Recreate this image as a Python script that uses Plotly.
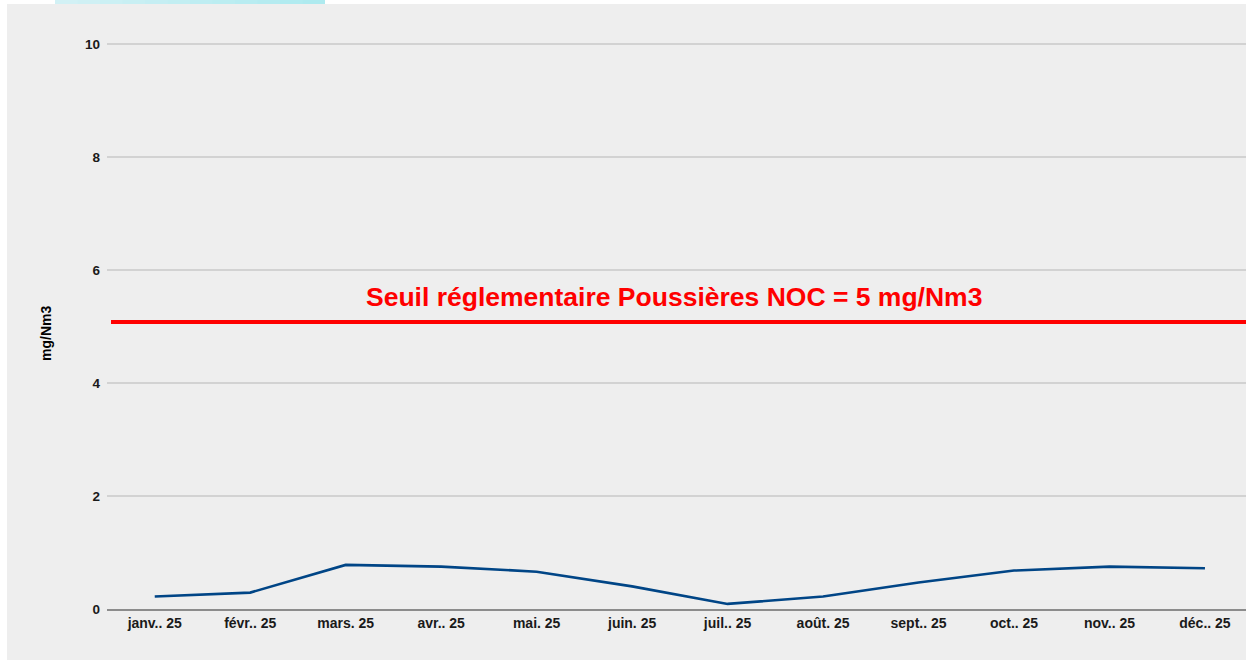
import plotly.graph_objects as go

# ---- data ----
mois = ["janv.. 25", "févr.. 25", "mars. 25", "avr.. 25", "mai. 25", "juin. 25",
        "juil.. 25", "août. 25", "sept.. 25", "oct.. 25", "nov.. 25", "déc.. 25"]
poussieres = [0.22, 0.29, 0.78, 0.75, 0.66, 0.40, 0.09, 0.22, 0.47, 0.68, 0.75, 0.72]
seuil = 5.08
seuil_label = "Seuil réglementaire Poussières NOC = 5 mg/Nm3"
y_ticks = [0, 2, 4, 6, 8, 10]
y_title = "mg/Nm3"

# ---- layout geometry (pixels) ----
W, H = 1246, 660
ML, MR, MT, MB = 107, 0, 41, 51
Y_TOP = 10.05
PW = W - ML - MR
PH = H - MT - MB


def px2x(px):
    return (px - ML) / PW


def py2y(py):
    return (H - MB - py) / PH


FONT = "Liberation Sans, Arial, sans-serif"

fig = go.Figure()
fig.add_trace(go.Scatter(
    x=mois, y=poussieres, mode="lines",
    line=dict(color="#004586", width=2.6),
    hoverinfo="x+y", showlegend=False,
))

shapes = []
# threshold line
shapes.append(dict(type="line", xref="paper", yref="y",
                   x0=px2x(111), x1=1.0, y0=seuil, y1=seuil,
                   line=dict(color="#ff0000", width=4), layer="above"))
# white page strips around the grey panel
shapes.append(dict(type="rect", xref="paper", yref="paper",
                   x0=px2x(0), x1=px2x(7), y0=py2y(H), y1=py2y(0),
                   fillcolor="#ffffff", line=dict(width=0), layer="above"))
shapes.append(dict(type="rect", xref="paper", yref="paper",
                   x0=px2x(0), x1=px2x(W), y0=py2y(4), y1=py2y(0),
                   fillcolor="#ffffff", line=dict(width=0), layer="above"))
# cyan header tab (approximate gradient)
n = 12
c0 = (0xd2, 0xf1, 0xf5)
c1 = (0xae, 0xea, 0xef)
x_start, x_end = 55, 325
for i in range(n):
    t = i / (n - 1)
    col = "rgb(%d,%d,%d)" % tuple(round(a + (b - a) * t) for a, b in zip(c0, c1))
    xa = x_start + (x_end - x_start) * i / n
    xb = x_start + (x_end - x_start) * (i + 1) / n + 0.6
    shapes.append(dict(type="rect", xref="paper", yref="paper",
                       x0=px2x(xa), x1=px2x(min(xb, x_end)), y0=py2y(4), y1=py2y(0),
                       fillcolor=col, line=dict(width=0), layer="above"))

annotations = [
    dict(text=seuil_label, xref="paper", yref="paper",
         x=px2x(674), y=py2y(297), showarrow=False,
         font=dict(family=FONT, size=26.5, color="#ff0000", weight="bold"),
         xanchor="center", yanchor="middle"),
    dict(text=y_title, xref="paper", yref="paper",
         x=px2x(46), y=py2y(334), showarrow=False, textangle=-90,
         font=dict(family=FONT, size=14, color="#000000", weight="bold"),
         xanchor="center", yanchor="middle"),
]

fig.update_layout(
    width=W, height=H,
    margin=dict(l=ML, r=MR, t=MT, b=MB, pad=0),
    paper_bgcolor="#eeeeee", plot_bgcolor="#eeeeee",
    shapes=shapes, annotations=annotations,
    showlegend=False,
    xaxis=dict(
        type="category", range=[-0.5, 11.43],
        showgrid=False, zeroline=False,
        showline=True, linecolor="#8c8c8c", linewidth=1.5,
        ticks="", tickfont=dict(family=FONT, size=14, color="#1a1a1a", weight="bold"),
        fixedrange=True,
    ),
    yaxis=dict(
        range=[0, Y_TOP], tickvals=y_ticks, ticktext=[str(v) for v in y_ticks],
        showgrid=True, gridcolor="#d2d2d2", gridwidth=1.5,
        zeroline=False, showline=False, ticks="",
        tickfont=dict(family=FONT, size=13.5, color="#1a1a1a", weight="bold"),
        ticklabelstandoff=6,
        fixedrange=True,
    ),
)

fig.write_html(
    "out.html",
    config={"displayModeBar": False},
    post_script="document.body.style.margin='0';document.body.style.overflow='hidden';",
)
